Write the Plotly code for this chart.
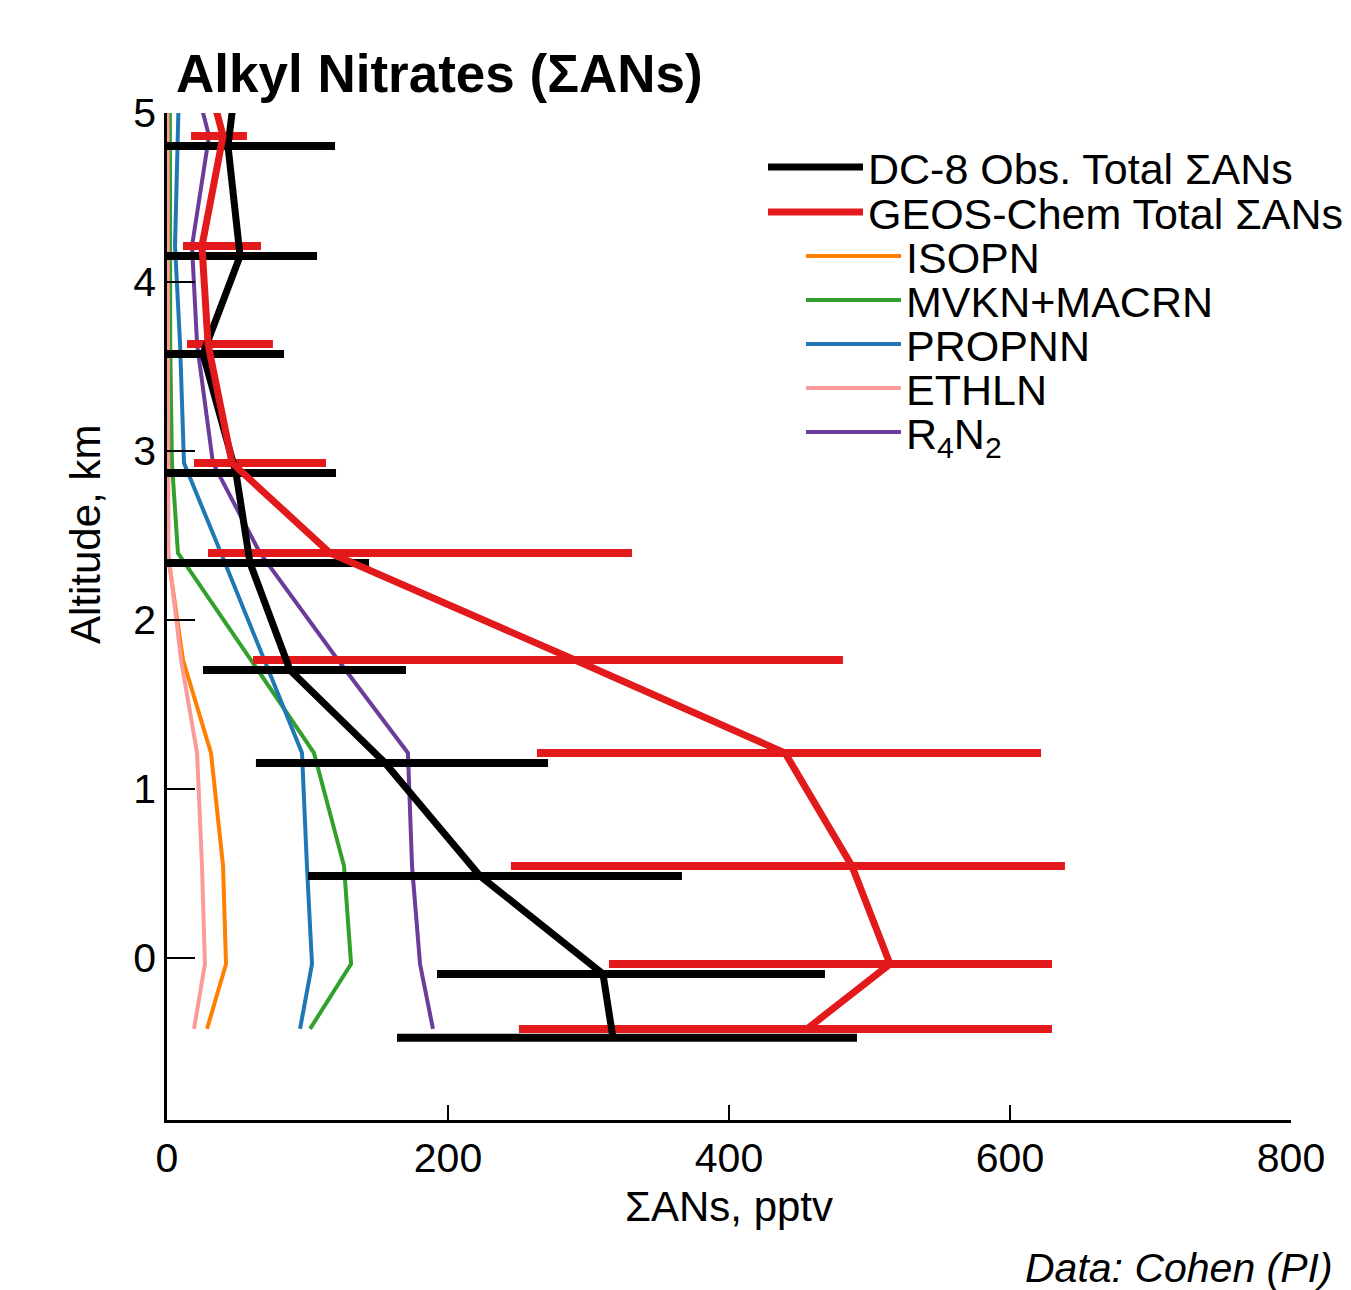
import plotly.graph_objects as go

# ---------------- data ----------------
# altitude bins (km); observations and model are slightly offset vertically
alt_obs = [5.25, 4.805, 4.154, 3.574, 2.870, 2.337, 1.704, 1.154, 0.485, -0.095, -0.473]
alt_mod = [5.30, 4.864, 4.213, 3.633, 2.929, 2.396, 1.763, 1.213, 0.544, -0.036, -0.420]

# DC-8 observed total ΣANs (pptv) with bar extents
obs_total = [50.0, 43.4, 52.0, 25.6, 49.1, 59.1, 87.5, 155.2, 222.8, 310.3, 317.4]
obs_lo = [50.0, 0.0, 0.0, 0.0, 0.0, 0.0, 25.6, 63.3, 100.4, 192.2, 163.7]
obs_hi = [50.0, 119.6, 106.8, 83.3, 120.3, 143.8, 170.1, 271.2, 366.5, 468.3, 491.1]

# GEOS-Chem total ΣANs (pptv) with bar extents
mod_total = [26.0, 39.9, 24.9, 29.2, 46.3, 116.0, 290.4, 439.9, 487.5, 514.6, 455.5]
mod_lo = [26.0, 17.1, 11.4, 14.2, 19.2, 29.2, 61.2, 263.3, 244.8, 314.6, 250.5]
mod_hi = [26.0, 56.9, 66.9, 75.4, 113.2, 331.0, 481.1, 622.1, 639.1, 629.9, 629.9]

# GEOS-Chem individual species (pptv)
isopn = [0.3, 0.3, 0.3, 0.3, 0.3, 0.5, 11.4, 31.3, 39.9, 42.0, 28.5]
mvkn_macrn = [2.0, 2.0, 2.1, 2.3, 3.5, 7.8, 59.8, 104.6, 126.0, 131.0, 101.8]
propnn = [9.0, 7.8, 5.7, 9.3, 12.1, 38.4, 69.0, 96.1, 99.6, 103.2, 94.7]
ethln = [0.3, 0.3, 0.3, 0.3, 0.5, 1.0, 10.0, 21.4, 24.9, 27.0, 19.2]
r4n2 = [16.4, 29.9, 17.8, 21.4, 32.7, 66.2, 121.7, 171.5, 174.4, 180.1, 189.3]

x_ticks = [0, 200, 400, 600, 800]
y_ticks = [0, 1, 2, 3, 4, 5]

FONT = "Liberation Sans, Arial, Helvetica, sans-serif"
BLACK = "#000000"
RED = "#e31a1c"
ORANGE = "#ff7f00"
GREEN = "#33a02c"
BLUE = "#1f78b4"
PINK = "#fb9a99"
PURPLE = "#6a3d9a"

# page body has an 8px margin: the figure is sized to fit the window
W, H = 1343, 1282
PL, PR, PT, PB = 159, 60, 105, 170          # plot area: x 167..1291, y 113..1120 on screen
PW, PH = W - PL - PR, H - PT - PB


def px_x(sx):   # screen x -> paper x
    return (sx - 8 - PL) / PW


def px_y(sy):   # screen y -> paper y
    return (PT + PH - (sy - 8)) / PH


fig = go.Figure()

species = [
    ("ISOPN", isopn, ORANGE, "legend3"),
    ("MVKN+MACRN", mvkn_macrn, GREEN, "legend4"),
    ("PROPNN", propnn, BLUE, "legend5"),
    ("ETHLN", ethln, PINK, "legend6"),
    ("R<sub>4</sub>N<sub>2</sub>", r4n2, PURPLE, "legend7"),
]

# thin species lines first (underneath)
for name, vals, col, lg in species:
    fig.add_trace(go.Scatter(
        x=vals, y=alt_mod, mode="lines", name=name,
        line=dict(color=col, width=4), legend=lg,
    ))


def bars(x, lo, hi, alt, col):
    return go.Scatter(
        x=x, y=alt, mode="markers", showlegend=False, hoverinfo="skip",
        marker=dict(size=0.1, color="rgba(0,0,0,0)"),
        error_x=dict(type="data", symmetric=False,
                     array=[h - v for h, v in zip(hi, x)],
                     arrayminus=[v - l for v, l in zip(x, lo)],
                     color=col, thickness=8, width=0),
    )


fig.add_trace(bars(mod_total, mod_lo, mod_hi, alt_mod, RED))
fig.add_trace(bars(obs_total, obs_lo, obs_hi, alt_obs, BLACK))

fig.add_trace(go.Scatter(
    x=obs_total, y=alt_obs, mode="lines", name="DC-8 Obs. Total ΣANs",
    line=dict(color=BLACK, width=7), legend="legend",
))
fig.add_trace(go.Scatter(
    x=mod_total, y=alt_mod, mode="lines", name="GEOS-Chem Total ΣANs",
    line=dict(color=RED, width=7), legend="legend2",
))

axis_common = dict(
    showline=True, linecolor="black", linewidth=2.5,
    ticks="inside", tickcolor="black", tickwidth=2,
    showgrid=False, zeroline=False,
    tickfont=dict(family=FONT, size=41, color="black"),
)

legend_font = dict(family=FONT, size=43, color="black")
legend_rows = {  # legend id: (screen x of legend box, screen y of text centre)
    "legend": (763, 167),
    "legend2": (763, 212),
    "legend3": (801, 256),
    "legend4": (801, 300),
    "legend5": (801, 344),
    "legend6": (801, 388),
    "legend7": (801, 432),
}
legends = {}
for lg, (sx, sy) in legend_rows.items():
    legends[lg] = dict(x=px_x(sx), y=px_y(sy), xanchor="left", yanchor="middle",
                       bgcolor="rgba(0,0,0,0)", font=legend_font, itemwidth=95)

fig.update_layout(
    width=W, height=H,
    paper_bgcolor="white", plot_bgcolor="white",
    margin=dict(l=PL, r=PR, t=PT, b=PB, autoexpand=False),
    font=dict(family=FONT, color="black"),
    title=dict(text="<b>Alkyl Nitrates (ΣANs)</b>", xref="container", x=(176 - 8) / W,
               xanchor="left", y=1 - (73 - 8) / H, yanchor="middle",
               font=dict(family=FONT, size=53, color="black")),
    xaxis=dict(range=[0, 800], tickvals=x_ticks, ticklen=15,
               title=dict(text="ΣANs, pptv", font=dict(family=FONT, size=42), standoff=12),
               **axis_common),
    yaxis=dict(range=[-0.959, 5.0], tickvals=y_ticks, ticklen=28,
               **axis_common),
    annotations=[
        dict(text="Altitude, km", xref="paper", yref="paper",
             x=px_x(85), y=px_y(535), xanchor="center", yanchor="middle",
             textangle=-90, showarrow=False,
             font=dict(family=FONT, size=42, color="black")),
        dict(text="<i>Data: Cohen (PI)</i>", xref="paper", yref="paper",
             x=px_x(1335), y=px_y(1268),
             xanchor="right", yanchor="middle", showarrow=False,
             font=dict(family=FONT, size=41, color="black")),
    ],
    **legends,
)

fig.write_html("out.html")
